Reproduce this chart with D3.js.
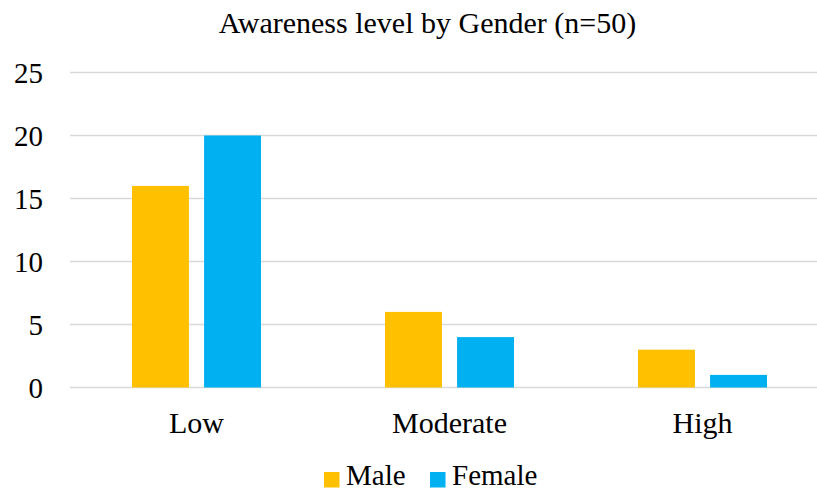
<!DOCTYPE html>
<html>
<head>
<meta charset="utf-8">
<script src="https://cdn.jsdelivr.net/npm/d3@7/dist/d3.min.js"></script>
<style>
  html, body { margin: 0; padding: 0; background: #fff; }
  svg text { font-family: "Liberation Serif", "Times New Roman", Times, "DejaVu Serif", serif !important; fill: #000; }
</style>
</head>
<body>
<svg id="chart" width="817" height="490"></svg>
<script>
const categories = ["Low", "Moderate", "High"];
const seriesNames = ["Male", "Female"];
const maleValues = [16, 6, 3];
const femaleValues = [20, 4, 1];
const yTicks = [0, 5, 10, 15, 20, 25];
const colors = ["#FFC000", "#00B0F0"];

const svg = d3.select("#chart");
const plot = { left: 70, right: 829, top: 72.5, bottom: 387.5 };

const data = categories.map((c, i) => ({ category: c, values: [maleValues[i], femaleValues[i]] }));

const x0 = d3.scaleBand().domain(categories).range([plot.left, plot.right]).paddingInner(0).paddingOuter(0);
const x1 = d3.scaleBand().domain(seriesNames).range([62, x0.bandwidth() - 62]).paddingInner(0.21);
const y = d3.scaleLinear().domain([0, 25]).range([plot.bottom, plot.top]);

// Horizontal gridlines
svg.append("g")
  .selectAll("line")
  .data(yTicks)
  .join("line")
  .attr("x1", plot.left).attr("x2", plot.right)
  .attr("y1", d => y(d)).attr("y2", d => y(d))
  .attr("stroke", "#d9d9d9").attr("stroke-width", 1.3);

// Value axis labels
const yAxis = d3.axisLeft(y).tickValues(yTicks).tickSize(0).tickPadding(0);
const gy = svg.append("g").attr("transform", `translate(${plot.left - 27},0)`).call(yAxis);
gy.select(".domain").remove();
gy.selectAll("text").attr("font-size", 29).attr("dy", "0.34em");

// Grouped bars
svg.append("g")
  .selectAll("g")
  .data(data)
  .join("g")
  .attr("transform", d => `translate(${x0(d.category)},0)`)
  .selectAll("rect")
  .data(d => d.values.map((v, i) => ({ key: seriesNames[i], value: v, idx: i })))
  .join("rect")
  .attr("x", d => x1(d.key))
  .attr("width", x1.bandwidth())
  .attr("y", d => y(d.value))
  .attr("height", d => y(0) - y(d.value))
  .attr("fill", d => colors[d.idx]);

// Category labels
const xAxis = d3.axisBottom(x0).tickSize(0).tickPadding(0);
const gx = svg.append("g").attr("transform", `translate(0,${plot.bottom + 45.5})`).call(xAxis);
gx.select(".domain").remove();
gx.selectAll("text").attr("font-size", 30).attr("dy", 0);

// Title
svg.append("text")
  .attr("x", 427.5).attr("y", 32.5)
  .attr("text-anchor", "middle")
  .attr("font-size", 30)
  .text("Awareness level by Gender (n=50)");

// Legend
const legendX = [324, 430];
const legend = svg.append("g");
seriesNames.forEach((name, i) => {
  legend.append("rect")
    .attr("x", legendX[i]).attr("y", 472)
    .attr("width", 15.5).attr("height", 15.5)
    .attr("fill", colors[i]);
  legend.append("text")
    .attr("x", legendX[i] + 22).attr("y", 485)
    .attr("font-size", 29)
    .text(name);
});
</script>
</body>
</html>
